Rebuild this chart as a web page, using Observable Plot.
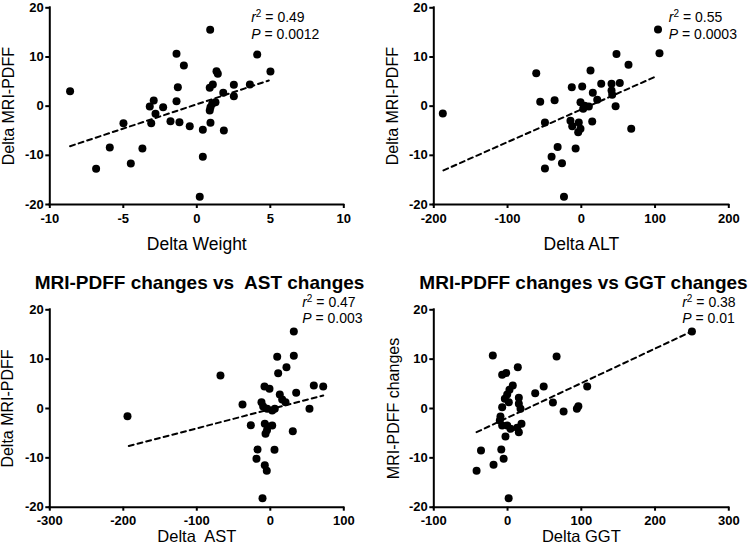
<!DOCTYPE html>
<html>
<head>
<meta charset="utf-8">
<script src="https://cdn.jsdelivr.net/npm/d3@7"></script>
<script src="https://cdn.jsdelivr.net/npm/@observablehq/plot@0.6"></script>
<style>
  html, body { margin: 0; padding: 0; background: #fff; }
  #wrap { position: relative; width: 749px; height: 549px; overflow: hidden; background: #fff; }
  #wrap svg { position: absolute; overflow: visible; }
</style>
</head>
<body>
<div id="wrap"></div>
<script>
// ---------- DATA ----------
const yTicks = [-20, -10, 0, 10, 20];

// Panel 1: Delta Weight vs Delta MRI-PDFF
const weightTicks = [-10, -5, 0, 5, 10];
const weightX = [-8.62, -6.85, -5.92, -4.99, -4.49, -3.70, 0.20, 0.41, 0.91, -1.38, 4.11, -0.88, 5.01, 1.34, 1.43, -1.29, 1.09, 0.88, 2.52, 3.61, 1.80, 2.52, -2.93, -1.38, -3.20, -2.29, 1.27, 1.05, 0.93, 0.88, -2.81, -3.10, -1.79, -1.18, -0.48, 0.41, 0.93, 1.84];
const weightY = [3.05, -12.75, -8.40, -3.46, -11.66, -8.61, -18.44, -10.30, 15.53, 10.65, 10.50, 8.27, 7.05, 7.10, 6.58, 3.85, 4.40, 3.73, 4.34, 4.40, 2.72, 2.03, 1.15, 1.00, -0.07, -0.21, 0.80, 0.48, -0.21, -0.88, -1.56, -3.47, -3.06, -3.26, -4.07, -4.81, -3.39, -4.95];
const weightFitX = [-8.62, 4.90];
const weightFitY = [-8.14, 5.22];

// Panel 2: Delta ALT
const altTicks = [-200, -100, 0, 100, 200];
const altX = [-187.8, -61.1, -55.7, -36.2, -49.3, -49.3, -32.1, -40.3, -26.2, -23.5, -12.9, -14.7, -12.3, -7.7, -4.2, -1.1, 1.2, -3.4, -1.1, 2.6, 4.5, 10.2, 12.5, 15.6, 14.8, 21.6, 27, 41, 41, 41.9, 46.5, 47.7, 52.2, 64, 67.7, 104, 106];
const altY = [-1.5, 6.67, 0.9, 1.2, -3.3, -12.7, -8.3, -10.3, -11.6, -18.4, 3.85, -2.95, -4.1, -8.6, -5.3, 0.8, 4.0, -3.3, -4.6, -0.54, 0.1, -0.07, 7.25, 2.7, -3.1, 1.3, 4.55, 4.55, 3.2, 2.3, 0.0, 10.6, 4.7, 8.4, -4.6, 15.6, 10.75];
const altFitX = [-186.9, 100.5];
const altFitY = [-13.06, 5.99];

// Panel 3: Delta AST
const astTicks = [-300, -200, -100, 0, 100];
const astX = [-194.3, -67.8, -37.8, -26.5, -17.4, -18.8, -7.5, -4.8, -10.6, 32, 9.4, 32, 22, 10.7, 35.2, 59.2, 72, 53.3, 30.6, 5.7, -7.9, -1.1, 12.9, 16.2, 20.7, -12, -9.7, -4.2, 2.6, 6.1, -7.5, -3.4, 2.6, -6.5, -4.5];
const astY = [-1.56, 6.69, 0.81, -3.38, -8.3, -10.2, -11.5, -12.6, -18.2, 15.6, 10.5, 10.7, 8.37, 7.15, 3.18, 4.66, 4.46, -0.06, -4.6, -8.37, 4.46, 4.0, 2.84, 1.82, 1.28, 1.28, 0.4, -0.06, -0.4, -0.06, -3.1, -3.65, -3.45, -5.1, -4.4];
const astFitX = [-192.5, 72];
const astFitY = [-7.6, 2.63];

// Panel 4: Delta GGT
const ggtTicks = [-100, 0, 100, 200, 300];
const ggtX = [250, -20, 66.5, 13.9, -7.3, -1.8, 7.1, 2.6, -0.5, -3.7, 15.3, 15.3, 17.6, 1.7, -7.3, -9.6, -10.5, -7.3, -0.5, 4, 13.1, 18.9, 15.3, -2.8, 37.5, 49, 61.5, 76, 94, 96, 108, -42, -19, -36, -8.5, -5.3, 1.5];
const ggtY = [15.6, 10.74, 10.55, 8.37, 6.83, 7.2, 4.66, 3.8, 2.84, 1.96, 2.16, 0.95, -0.06, 1.28, 0.26, -1.62, -2.43, -3.45, -3.45, -4.1, -3.9, -3.1, -4.8, -5.67, 3.1, 4.46, 1.2, -0.6, -0.07, 0.47, 4.46, -12.6, -11.4, -8.5, -8.3, -10.2, -18.2];
const ggtFitX = [-42, 248];
const ggtFitY = [-4.8, 15.5];

const xLabels = ["Delta Weight", "Delta ALT", "Delta\u00a0 AST", "Delta GGT"];
const yLabels = ["Delta MRI-PDFF", "Delta MRI-PDFF", "Delta MRI-PDFF", "MRI-PDFF changes"];
const titles = [null, null, "MRI-PDFF changes vs\u00a0 AST changes", "MRI-PDFF changes vs GGT changes"];
const r2Values = ["0.49", "0.55", "0.47", "0.38"];
const pValues = ["0.0012", "0.0003", "0.003", "0.01"];

// ---------- LAYOUT (positions / styles) ----------
const layout = [
  {left: 0,   top: 0,   width: 375, height: 260, m: [7.3, 31.7, 56, 49.3],  xTitleDy: 33,   xTitleSize: 17.5, xTickPad: 5,   annDx: -92.6, annDy: [4.4, 21],   yTitleDx: -41.3, titleDx: 0,   titleDy: 0},
  {left: 375, top: 0,   width: 374, height: 260, m: [7.3, 20.7, 56, 58.3],  xTitleDy: 33,   xTitleSize: 17.5, xTickPad: 5,   annDx: -60,   annDy: [4.4, 21],   yTitleDx: -40.8, titleDx: 0,   titleDy: 0},
  {left: 0,   top: 260, width: 375, height: 289, m: [49.3, 31.7, 42.3, 49.3], xTitleDy: 23.5, xTitleSize: 16.5, xTickPad: 4.5, annDx: -41.6, annDy: [-12.6, 3.4], yTitleDx: -42.3, titleDx: 2.7, titleDy: -34.3},
  {left: 375, top: 260, width: 374, height: 289, m: [49.3, 20.7, 42.3, 58.3], xTitleDy: 23.5, xTitleSize: 16.5, xTickPad: 4.5, annDx: -46.6, annDy: [-12.6, 3.4], yTitleDx: -40.3, titleDx: 2.2, titleDy: -34.3}
];

const FONT = '"Liberation Sans", Arial, Helvetica, sans-serif';

const series = [
  {xs: weightX, ys: weightY, fx: weightFitX, fy: weightFitY, ticks: weightTicks},
  {xs: altX, ys: altY, fx: altFitX, fy: altFitY, ticks: altTicks},
  {xs: astX, ys: astY, fx: astFitX, fy: astFitY, ticks: astTicks},
  {xs: ggtX, ys: ggtY, fx: ggtFitX, fy: ggtFitY, ticks: ggtTicks}
];

const wrap = document.getElementById("wrap");

series.forEach((s, i) => {
  const L = layout[i];
  const pts = s.xs.map((x, k) => ({x, y: s.ys[k]}));
  const fit = s.fx.map((x, k) => ({x, y: s.fy[k]}));
  const x0 = s.ticks[0], x1 = s.ticks[s.ticks.length - 1];
  const marks = [
    // axis lines
    Plot.ruleY([-20], {x1: x0, x2: x1, stroke: "#000", strokeWidth: 2, strokeLinecap: "square"}),
    Plot.ruleX([x0], {y1: -20, y2: 20, stroke: "#000", strokeWidth: 2, strokeLinecap: "square"}),
    Plot.axisX(s.ticks, {anchor: "bottom", tickSize: 4, tickPadding: L.xTickPad, strokeWidth: 2, fontSize: 13, fontWeight: "bold", tickFormat: d => String(d), label: null}),
    Plot.axisY(yTicks, {anchor: "left", tickSize: 4, tickPadding: 2, strokeWidth: 2, fontSize: 13, fontWeight: "bold", tickFormat: d => String(d), label: null}),
    // regression line
    Plot.line(fit, {x: "x", y: "y", stroke: "#000", strokeWidth: 2, strokeDasharray: "5,4"}),
    // points
    Plot.dot(pts, {x: "x", y: "y", r: 4, fill: "#000", stroke: null}),
    // axis titles
    Plot.text([xLabels[i]], {frameAnchor: "bottom", lineAnchor: "top", dy: L.xTitleDy, fontSize: L.xTitleSize, fill: "#000"}),
    Plot.text([yLabels[i]], {frameAnchor: "left", rotate: -90, textAnchor: "middle", lineAnchor: "middle", dx: L.yTitleDx, fontSize: 16, fill: "#000"}),
    // stats annotation
    Plot.text(["r2 = " + r2Values[i]], {frameAnchor: "top-right", textAnchor: "start", lineAnchor: "top", dx: L.annDx, dy: L.annDy[0], fontSize: 14, fill: "#000"}),
    Plot.text(["P = " + pValues[i]], {frameAnchor: "top-right", textAnchor: "start", lineAnchor: "top", dx: L.annDx, dy: L.annDy[1], fontSize: 14, fill: "#000"})
  ];
  if (titles[i]) {
    marks.push(Plot.text([titles[i]], {frameAnchor: "top", lineAnchor: "top", dx: L.titleDx, dy: L.titleDy, fontSize: 19, fontWeight: "bold", fill: "#000"}));
  }
  const svg = Plot.plot({
    width: L.width, height: L.height,
    marginTop: L.m[0], marginRight: L.m[1], marginBottom: L.m[2], marginLeft: L.m[3],
    x: {domain: [x0, x1]},
    y: {domain: [-20, 20]},
    style: {fontFamily: FONT, color: "#000", background: "transparent", overflow: "visible"},
    marks
  });
  svg.style.left = L.left + "px";
  svg.style.top = L.top + "px";
  // rich text for the stats annotations (italic r with superscript 2, italic P)
  svg.querySelectorAll("text").forEach(t => {
    const v = t.textContent;
    if (v.startsWith("r2 = ")) {
      t.innerHTML = `<tspan font-style="italic">r</tspan><tspan dy="-5" font-size="10">2</tspan><tspan dy="5"> = ${v.slice(5)}</tspan>`;
    } else if (v.startsWith("P = ")) {
      t.innerHTML = `<tspan font-style="italic">P</tspan><tspan> = ${v.slice(4)}</tspan>`;
    }
  });
  wrap.appendChild(svg);
});
</script>
</body>
</html>
